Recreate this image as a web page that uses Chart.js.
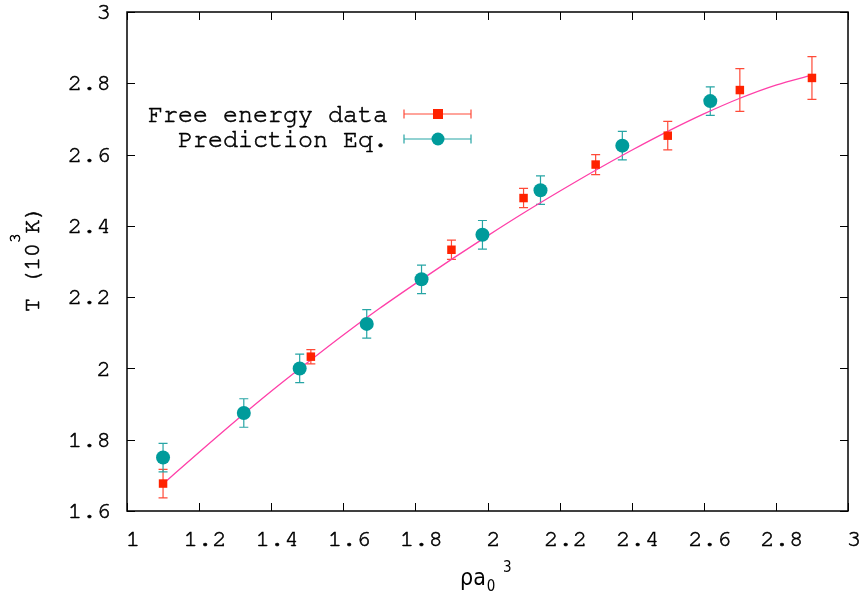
<!DOCTYPE html>
<html>
<head>
<meta charset="utf-8">
<script src="https://cdn.jsdelivr.net/npm/chart.js@4.4.1/dist/chart.umd.min.js"></script>
<style>
  html, body { margin: 0; padding: 0; background: #fff; }
  #wrap { width: 865px; height: 595px; }
</style>
</head>
<body>
<div id="wrap"><canvas id="chart" width="865" height="595"></canvas></div>
<script>
// Free energy data (red squares)
const freeX   = [1.1, 1.51, 1.9, 2.1, 2.3, 2.5, 2.7, 2.9];
const freeY   = [1.677, 2.033, 2.333, 2.478, 2.572, 2.653, 2.781, 2.815];
const freeErr = [0.04, 0.02, 0.027, 0.027, 0.028, 0.04, 0.06, 0.06];

// Prediction Eq. (teal circles)
const predX   = [1.1, 1.324, 1.479, 1.665, 1.817, 1.986, 2.147, 2.374, 2.618];
const predY   = [1.75, 1.875, 2.0, 2.125, 2.25, 2.375, 2.5, 2.625, 2.75];
const predErr = [0.04, 0.04, 0.04, 0.04, 0.04, 0.04, 0.04, 0.04, 0.04];

// fitted curve
const curveX = [1.1, 1.2, 1.3, 1.4, 1.5, 1.6, 1.7, 1.8, 1.9, 2.0, 2.1, 2.2, 2.3, 2.4, 2.5, 2.6, 2.7, 2.8, 2.9];
const curveY = [1.676, 1.765, 1.852, 1.936, 2.016, 2.094, 2.168, 2.238, 2.306, 2.372, 2.436, 2.497, 2.556, 2.612, 2.665, 2.714, 2.758, 2.795, 2.823];

const xTicks = [1, 1.2, 1.4, 1.6, 1.8, 2, 2.2, 2.4, 2.6, 2.8, 3];
const yTicks = [1.6, 1.8, 2, 2.2, 2.4, 2.6, 2.8, 3];

const RED = '#ff2200';
const RED_BAR = '#ff4a38';
const TEAL = '#009b9b';
const TEAL_BAR = '#27a5a5';
const CURVE = '#ff3fa8';
const MONO = '"Nimbus Mono PS", "Nimbus Mono L", FreeMono, "Courier New", Courier, "Liberation Mono", monospace';
const SANS = '"DejaVu Sans Condensed", "DejaVu Sans", sans-serif';

function pts(xs, ys) {
  return xs.map((x, i) => ({ x: x, y: ys[i] }));
}

function fmt(v) {
  return String(parseFloat(Number(v).toFixed(1)));
}

function drawBar(ctx, x, y1, y2, cap) {
  ctx.beginPath();
  ctx.moveTo(x, y1); ctx.lineTo(x, y2);
  ctx.moveTo(x - cap, y1); ctx.lineTo(x + cap, y1);
  ctx.moveTo(x - cap, y2); ctx.lineTo(x + cap, y2);
  ctx.stroke();
}

function boldText(ctx, s, x, y) {
  ctx.fillText(s, x, y);
  ctx.strokeText(s, x, y);
}

const errorBars = {
  id: 'errorBars',
  beforeDatasetsDraw(chart) {
    const ctx = chart.ctx, xs = chart.scales.x, ys = chart.scales.y;
    ctx.save();
    ctx.lineWidth = 1.2;
    ctx.strokeStyle = RED_BAR;
    freeX.forEach((x, i) => {
      drawBar(ctx, xs.getPixelForValue(x), ys.getPixelForValue(freeY[i] + freeErr[i]),
        ys.getPixelForValue(freeY[i] - freeErr[i]), 4.5);
    });
    ctx.strokeStyle = TEAL_BAR;
    predX.forEach((x, i) => {
      drawBar(ctx, xs.getPixelForValue(x), ys.getPixelForValue(predY[i] + predErr[i]),
        ys.getPixelForValue(predY[i] - predErr[i]), 4.5);
    });
    ctx.restore();
  }
};

const frame = {
  id: 'frame',
  afterDraw(chart) {
    const ctx = chart.ctx, a = chart.chartArea, xs = chart.scales.x, ys = chart.scales.y;
    ctx.save();
    ctx.strokeStyle = '#000';
    ctx.lineWidth = 1.5;
    ctx.strokeRect(a.left, a.top, a.right - a.left, a.bottom - a.top);
    ctx.lineWidth = 1;
    ctx.beginPath();
    xTicks.forEach(v => {
      const p = Math.round(xs.getPixelForValue(v)) + 0.5;
      ctx.moveTo(p, a.bottom); ctx.lineTo(p, a.bottom - 8);
      ctx.moveTo(p, a.top); ctx.lineTo(p, a.top + 8);
    });
    yTicks.forEach(v => {
      const p = Math.round(ys.getPixelForValue(v)) + 0.5;
      ctx.moveTo(a.left, p); ctx.lineTo(a.left + 8, p);
      ctx.moveTo(a.right, p); ctx.lineTo(a.right - 8, p);
    });
    ctx.stroke();

    // legend
    ctx.fillStyle = '#000';
    ctx.strokeStyle = '#000';
    ctx.lineWidth = 0.6;
    ctx.font = '25px ' + MONO;
    ctx.textAlign = 'right';
    ctx.textBaseline = 'middle';
    boldText(ctx, 'Free energy data', 388, 114);
    boldText(ctx, 'Prediction Eq.', 388, 139);
    ctx.lineWidth = 1.2;
    [[114, RED_BAR, RED, 'rect'], [139, TEAL_BAR, TEAL, 'circle']].forEach(r => {
      const y = r[0];
      ctx.strokeStyle = r[1];
      ctx.beginPath();
      ctx.moveTo(404, y); ctx.lineTo(471, y);
      ctx.moveTo(404, y - 4.5); ctx.lineTo(404, y + 4.5);
      ctx.moveTo(471, y - 4.5); ctx.lineTo(471, y + 4.5);
      ctx.stroke();
      ctx.fillStyle = r[2];
      if (r[3] === 'rect') {
        ctx.fillRect(433, y - 5, 10, 10);
      } else {
        ctx.beginPath(); ctx.arc(438, y, 6.5, 0, Math.PI * 2); ctx.fill();
      }
    });

    // axis titles
    ctx.fillStyle = '#000';
    ctx.textAlign = 'left';
    ctx.textBaseline = 'alphabetic';
    ctx.font = '23px ' + SANS;
    ctx.fillText('\u03C1a', 460, 585);
    const wa = ctx.measureText('\u03C1a').width;
    ctx.font = '15px ' + SANS;
    ctx.fillText('0', 460 + wa + 1, 591);
    ctx.fillText('3', 503, 572);

    ctx.save();
    ctx.translate(39, 259);
    ctx.rotate(-Math.PI / 2);
    ctx.strokeStyle = '#000';
    ctx.lineWidth = 0.6;
    const t1 = 'T (10', t2 = '3', t3 = 'K)';
    ctx.font = '23px ' + MONO;
    const w1 = ctx.measureText(t1).width;
    const w3 = ctx.measureText(t3).width;
    ctx.font = '16px ' + MONO;
    const w2 = ctx.measureText(t2).width;
    const x0 = -(w1 + w2 + w3) / 2;
    ctx.font = '23px ' + MONO;
    boldText(ctx, t1, x0, 0);
    boldText(ctx, t3, x0 + w1 + w2, 0);
    ctx.font = '16px ' + MONO;
    boldText(ctx, t2, x0 + w1, -19);
    ctx.restore();
    ctx.restore();
  }
};

const tickFont = { family: MONO, size: 24 };

new Chart(document.getElementById('chart'), {
  type: 'scatter',
  data: {
    datasets: [
      {
        label: 'Prediction Eq.',
        data: pts(predX, predY),
        pointStyle: 'circle',
        pointRadius: 7,
        pointHoverRadius: 7,
        backgroundColor: TEAL,
        borderColor: TEAL,
        borderWidth: 0
      },
      {
        label: 'Free energy data',
        data: pts(freeX, freeY),
        pointStyle: 'rect',
        pointRadius: 6,
        pointHoverRadius: 6,
        backgroundColor: RED,
        borderColor: RED,
        borderWidth: 0
      },
      {
        label: 'fit',
        type: 'line',
        data: pts(curveX, curveY),
        showLine: true,
        borderColor: CURVE,
        borderWidth: 1.3,
        pointRadius: 0,
        cubicInterpolationMode: 'monotone',
        fill: false
      }
    ]
  },
  options: {
    responsive: false,
    animation: false,
    layout: { padding: { top: 12, right: 17, left: 0, bottom: 0 } },
    plugins: { legend: { display: false }, tooltip: { enabled: false } },
    scales: {
      x: {
        type: 'linear',
        min: 1, max: 3,
        afterBuildTicks: s => { s.ticks = xTicks.map(v => ({ value: v })); },
        afterFit: s => { s.height = 84; s.paddingLeft = 0; s.paddingRight = 0; },
        grid: { display: false },
        border: { display: false },
        ticks: {
          color: '#000',
          font: tickFont,
          textStrokeColor: '#000',
          textStrokeWidth: 0.6,
          padding: 5,
          labelOffset: 6,
          maxRotation: 0,
          autoSkip: false,
          callback: v => fmt(v)
        }
      },
      y: {
        type: 'linear',
        min: 1.6, max: 3,
        afterBuildTicks: s => { s.ticks = yTicks.map(v => ({ value: v })); },
        afterFit: s => { s.width = 127; s.paddingTop = 0; s.paddingBottom = 0; },
        grid: { display: false },
        border: { display: false },
        ticks: {
          color: '#000',
          font: tickFont,
          textStrokeColor: '#000',
          textStrokeWidth: 0.6,
          padding: 8,
          autoSkip: false,
          callback: v => fmt(v)
        }
      }
    }
  },
  plugins: [errorBars, frame]
});
</script>
</body>
</html>
